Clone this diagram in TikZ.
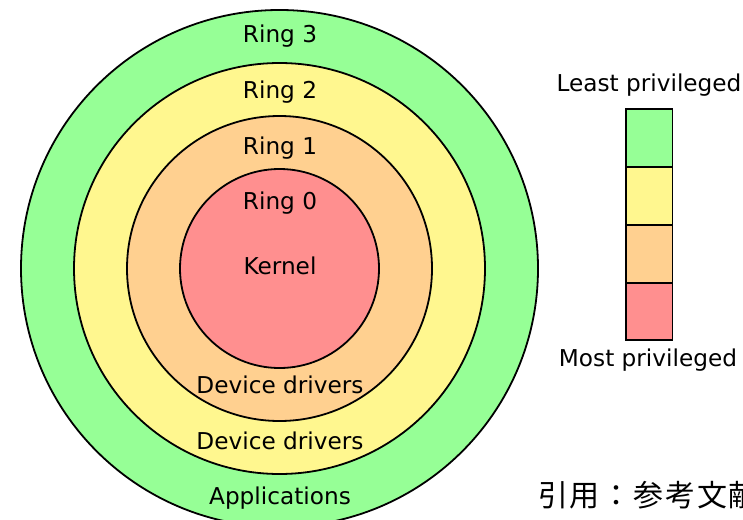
\documentclass[tikz,border=0pt]{standalone}
\usepackage{fontspec}
\setmainfont{DejaVu Sans}
\newfontfamily\cjkfont[LetterSpace=6]{Noto Sans CJK JP}

\definecolor{ringgreen}{RGB}{150,255,150}
\definecolor{ringyellow}{RGB}{255,247,143}
\definecolor{ringorange}{RGB}{255,208,144}
\definecolor{ringred}{RGB}{255,143,143}

\tikzset{
  ring/.style={draw=black, line width=1.8pt},
  swatch/.style={draw=black, line width=1.6pt},
  lbl/.style={anchor=base, inner sep=0pt, font=\fontsize{23.2}{28}\selectfont},
}

\begin{document}
\begin{tikzpicture}[x=1pt, y=-1pt]
  \useasboundingbox (0,0) rectangle (743,519);
  \clip (0,0) rectangle (743,519);

  % concentric protection rings
  \coordinate (c) at (279.5,268.5);
  \fill[ring, fill=ringgreen]  (c) circle[radius=258.5];
  \fill[ring, fill=ringyellow] (c) circle[radius=205.5];
  \fill[ring, fill=ringorange] (c) circle[radius=152.5];
  \fill[ring, fill=ringred]    (c) circle[radius=99.5];

  % ring labels
  \node[lbl] (r3)   at (280,43)  {Ring 3};
  \node[lbl] (r2)   at (280,98)  {Ring 2};
  \node[lbl] (r1)   at (280,154) {Ring 1};
  \node[lbl] (r0)   at (280,209) {Ring 0};
  \node[lbl] (kern) at (280,274) {Kernel};
  \node[lbl] (dd1)  at (280,393) {Device drivers};
  \node[lbl] (dd2)  at (280,449) {Device drivers};
  \node[lbl] (apps) at (280,504) {Applications};

  % privilege scale
  \filldraw[swatch, fill=ringgreen]  (626,109)   rectangle (672.5,167);
  \filldraw[swatch, fill=ringyellow] (626,167)   rectangle (672.5,225);
  \filldraw[swatch, fill=ringorange] (626,225)   rectangle (672.5,283);
  \filldraw[swatch, fill=ringred]    (626,283)   rectangle (672.5,340);

  \node[lbl] (least) at (649,91.5)  {Least privileged};
  \node[lbl] (most)  at (648,366.5) {Most privileged};

  % citation note, running past the right edge
  \node[anchor=west, inner sep=0pt, font=\cjkfont\fontsize{30}{36}\selectfont]
    (cite) at (538,495) {引用：参考文献};
\end{tikzpicture}
\end{document}
